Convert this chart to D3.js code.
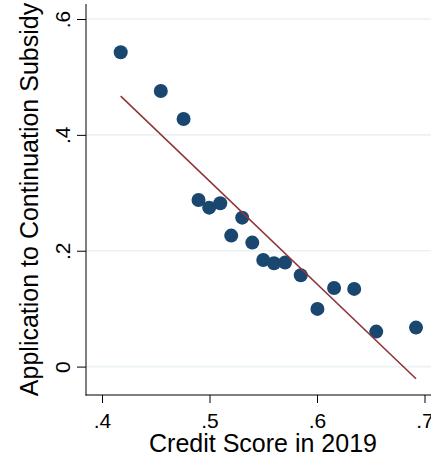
<!DOCTYPE html>
<html>
<head>
<meta charset="utf-8">
<script src="https://cdn.jsdelivr.net/npm/d3@7"></script>
<style>
  html, body { margin: 0; padding: 0; background: #fff; }
  svg { display: block; font-family: "Liberation Sans", Arial, Helvetica, sans-serif; }
</style>
</head>
<body>
<svg id="chart" width="431" height="462"></svg>
<script>
// Binned scatter: credit score (x) vs application rate (y)
const creditScore = [0.4174, 0.4547, 0.4759, 0.4898, 0.4997, 0.5100, 0.5202, 0.5304, 0.5398,
                     0.5500, 0.5600, 0.5703, 0.5849, 0.6004, 0.6159, 0.6346, 0.6551, 0.6921];
const application = [0.5425, 0.4757, 0.4274, 0.2877, 0.2744, 0.2820, 0.2261, 0.2571, 0.2140,
                     0.1841, 0.1784, 0.1795, 0.1577, 0.0996, 0.1358, 0.1341, 0.0604, 0.0673];
// Linear fit line endpoints (x at min and max bins)
const fitX = [0.4174, 0.6921];
const fitY = [0.467, -0.021];

const xTicks = [0.4, 0.5, 0.6, 0.7];
const xTickLabels = [".4", ".5", ".6", ".7"];
const yTicks = [0, 0.2, 0.4, 0.6];
const yTickLabels = ["0", ".2", ".4", ".6"];
const xTitle = "Credit Score in 2019";
const yTitle = "Application to Continuation Subsidy";

const svg = d3.select("#chart");
const plotLeft = 86, plotTop = 4, plotBottom = 395, plotRight = 440;

const x = d3.scaleLinear().domain([0.4, 0.7]).range([102, 424.5]);
const y = d3.scaleLinear().domain([0, 0.6]).range([366.6, 19]);

// Gridlines
svg.append("g").selectAll("line").data(yTicks).join("line")
  .attr("x1", plotLeft).attr("x2", plotRight)
  .attr("y1", d => y(d)).attr("y2", d => y(d))
  .attr("stroke", "#eaf2f3").attr("stroke-width", 1.6);

// Y axis
const yAxis = d3.axisLeft(y).tickValues(yTicks).tickSize(9)
  .tickFormat((d, i) => yTickLabels[i]);
const gy = svg.append("g").attr("transform", `translate(${plotLeft},0)`).call(yAxis);
gy.select(".domain").remove();
gy.selectAll(".tick line").attr("stroke", "#000").attr("stroke-width", 1);
gy.selectAll(".tick text")
  .attr("x", null).attr("dy", null)
  .attr("transform", "translate(-16,0) rotate(-90)")
  .attr("text-anchor", "middle")
  .attr("font-size", 21).attr("fill", "#000");
svg.append("line").attr("x1", plotLeft).attr("x2", plotLeft)
  .attr("y1", plotTop).attr("y2", plotBottom + 0.5)
  .attr("stroke", "#000").attr("stroke-width", 1);

// X axis
const xAxis = d3.axisBottom(x).tickValues(xTicks).tickSize(8)
  .tickFormat((d, i) => xTickLabels[i]);
const gx = svg.append("g").attr("transform", `translate(0,${plotBottom})`).call(xAxis);
gx.select(".domain").remove();
gx.selectAll(".tick line").attr("stroke", "#000").attr("stroke-width", 1);
gx.selectAll(".tick text")
  .attr("y", 33).attr("dy", null)
  .attr("font-size", 21).attr("fill", "#000");
svg.append("line").attr("x1", plotLeft - 0.5).attr("x2", plotRight)
  .attr("y1", plotBottom).attr("y2", plotBottom)
  .attr("stroke", "#000").attr("stroke-width", 1);

// Points
svg.append("g").selectAll("circle").data(creditScore).join("circle")
  .attr("cx", d => x(d))
  .attr("cy", (d, i) => y(application[i]))
  .attr("r", 7)
  .attr("fill", "#1a476f");

// Fit line
svg.append("line")
  .attr("x1", x(fitX[0])).attr("y1", y(fitY[0]))
  .attr("x2", x(fitX[1])).attr("y2", y(fitY[1]))
  .attr("stroke", "#90353b").attr("stroke-width", 1.6);

// Axis titles
svg.append("text")
  .attr("x", 263).attr("y", 452)
  .attr("text-anchor", "middle").attr("font-size", 25).attr("fill", "#000")
  .text(xTitle);
svg.append("text")
  .attr("transform", `translate(38,${(plotTop + plotBottom) / 2}) rotate(-90)`)
  .attr("text-anchor", "middle").attr("font-size", 25).attr("fill", "#000")
  .text(yTitle);
</script>
</body>
</html>
